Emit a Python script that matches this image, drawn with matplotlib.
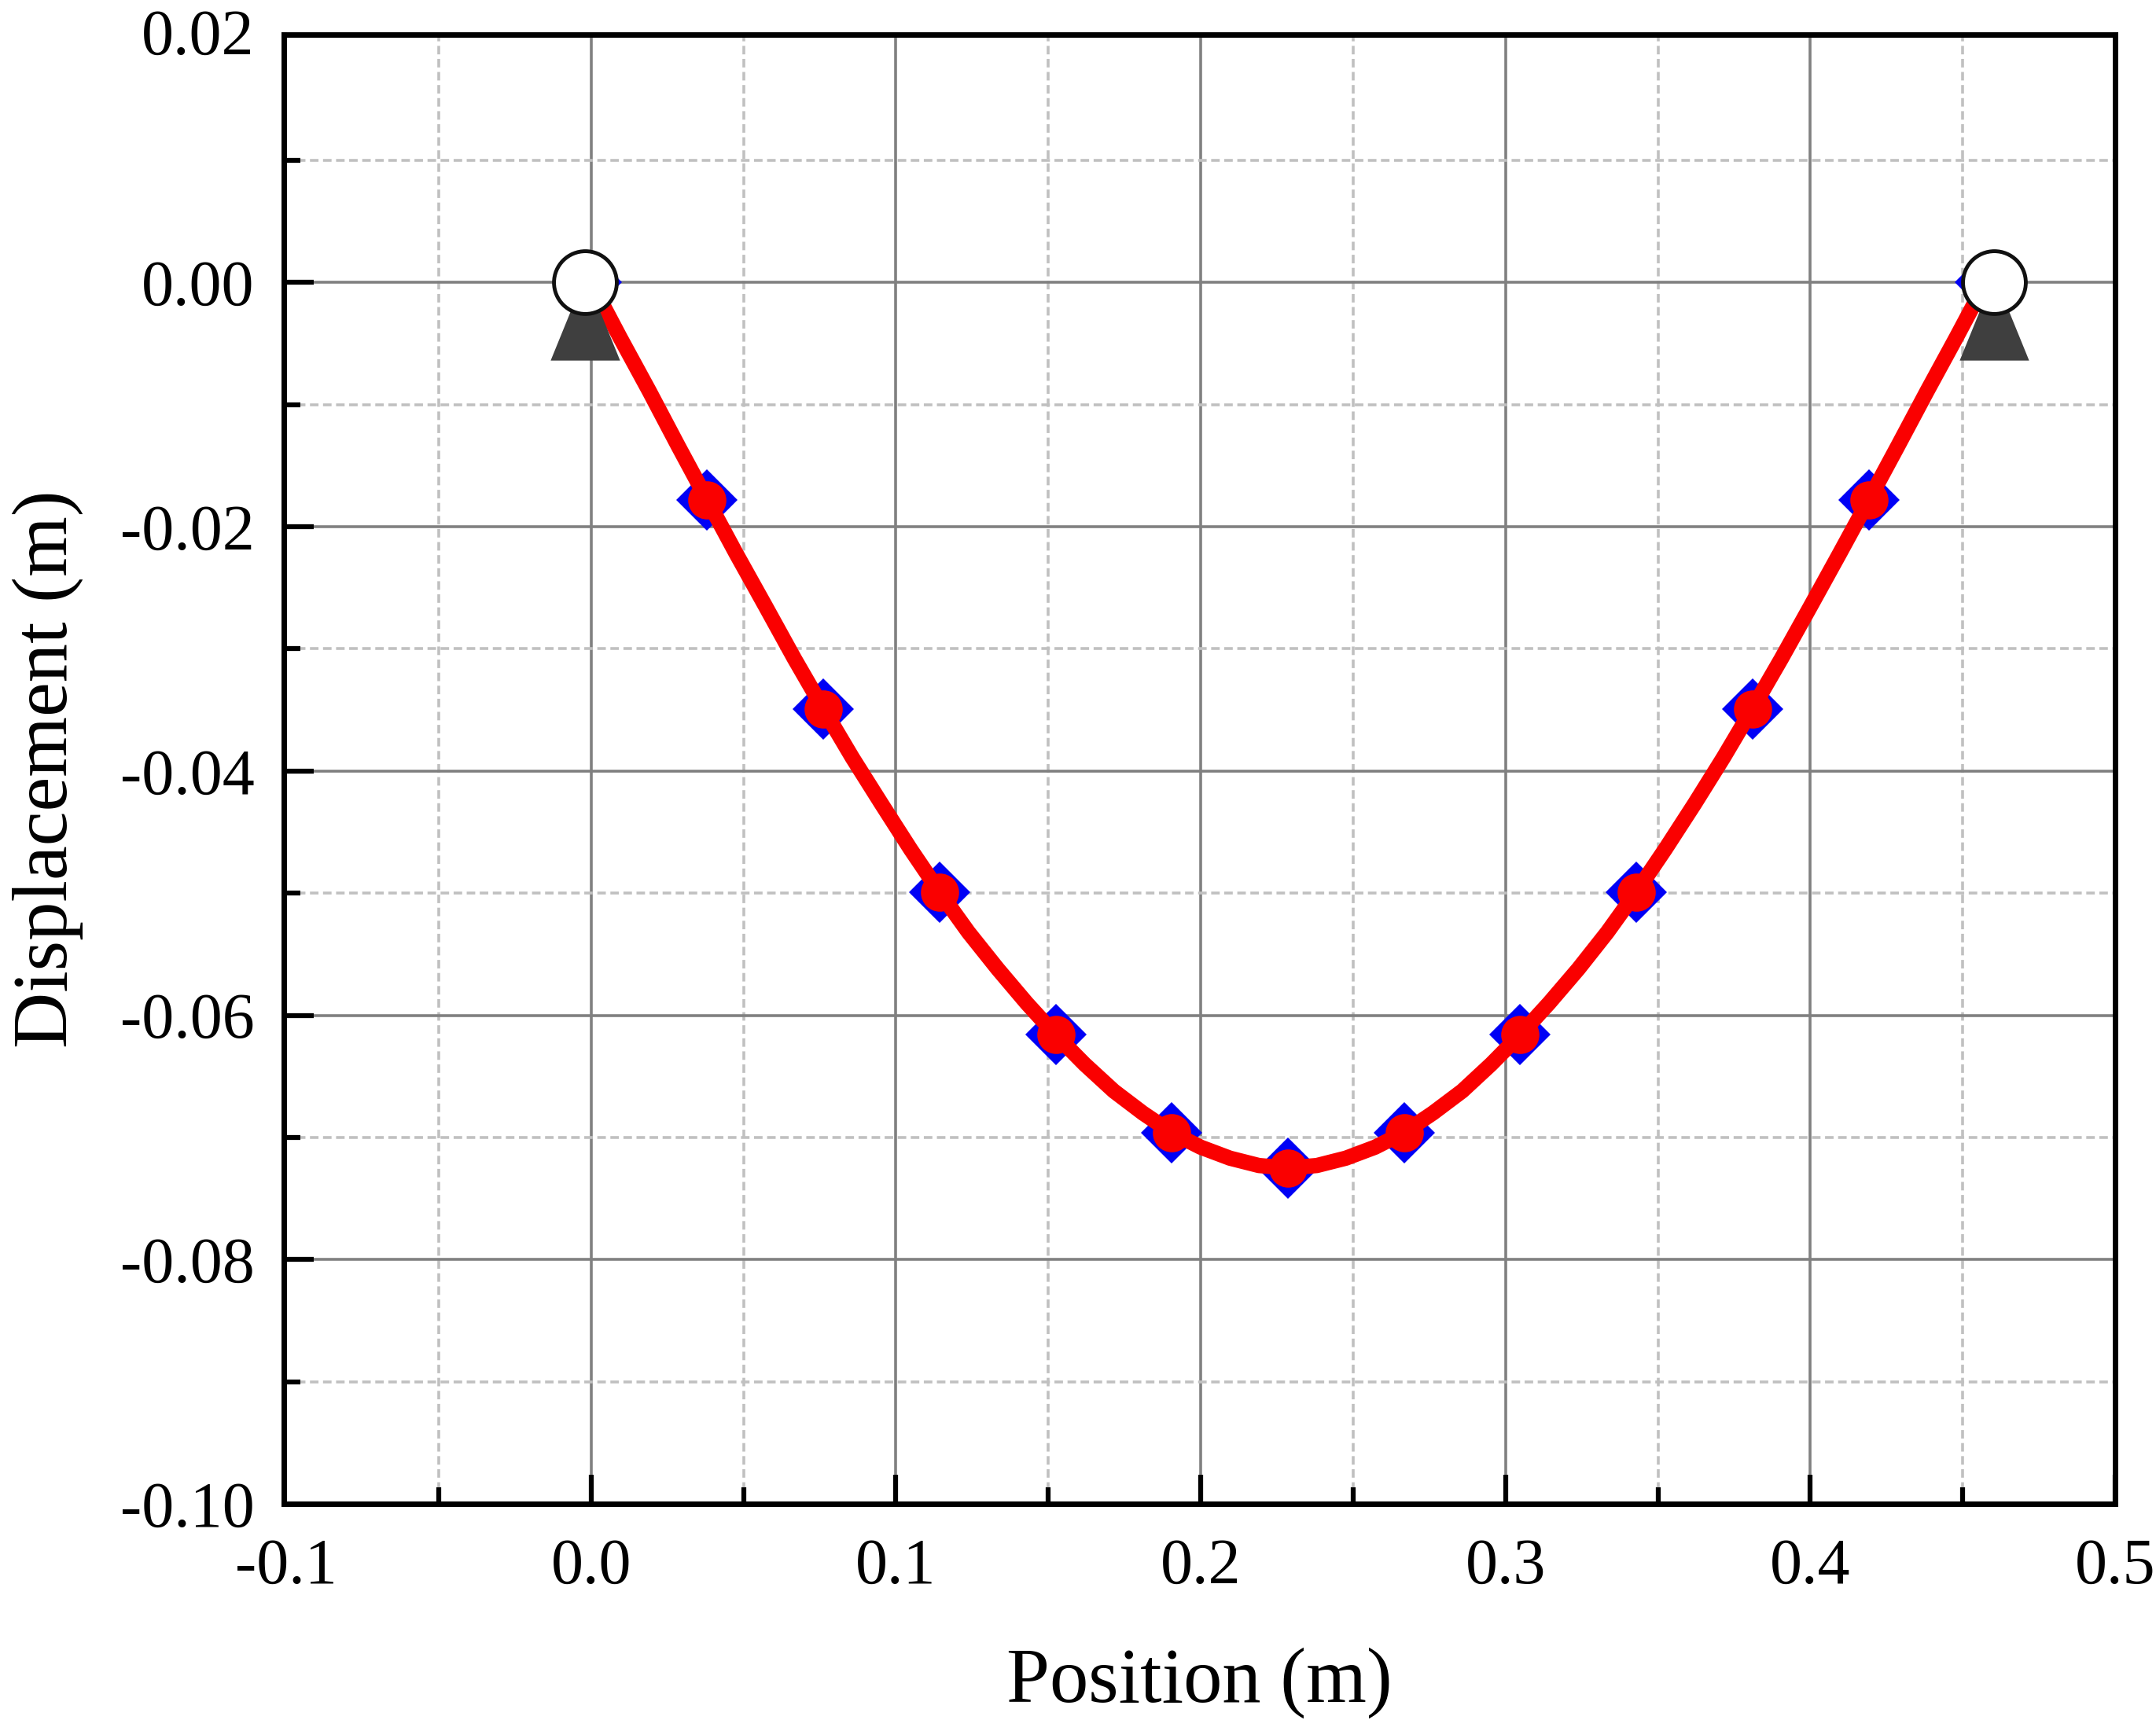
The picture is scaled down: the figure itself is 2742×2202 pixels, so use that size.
import matplotlib
matplotlib.use('Agg')
import matplotlib.pyplot as plt
from matplotlib.ticker import MultipleLocator
from matplotlib.transforms import ScaledTranslation

plt.rcParams['font.family'] = ['Liberation Serif', 'DejaVu Serif']

# nodes
position = [0.0, 0.0381, 0.0762, 0.1143, 0.1524, 0.1905, 0.2285, 0.2667, 0.3048, 0.3429, 0.381, 0.4192, 0.4575]
displacement = [0.0, -0.0178, -0.0349, -0.0499, -0.0616, -0.0696, -0.0725, -0.0696, -0.0616, -0.0499, -0.0349, -0.0178, 0.0]

curve_x = [0.0, 0.0095, 0.0191, 0.0286, 0.0381, 0.0476, 0.0572, 0.0667, 0.0762, 0.0857, 0.0953, 0.1048, 0.1143,
           0.1238, 0.1334, 0.1429, 0.1524, 0.1619, 0.1715, 0.181, 0.1905, 0.2, 0.2096, 0.2191, 0.2285,
           0.2381, 0.2476, 0.2572, 0.2667, 0.2762, 0.2858, 0.2953, 0.3048, 0.3143, 0.3239, 0.3334, 0.3429,
           0.3524, 0.362, 0.3715, 0.381, 0.3905, 0.4001, 0.4096, 0.4192, 0.4287, 0.4383, 0.4479, 0.4575]
curve_y = [0.0, -0.0045, -0.0089, -0.0134, -0.0178, -0.0222, -0.0265, -0.0308, -0.0349, -0.0389, -0.0427, -0.0464, -0.0499,
           -0.0532, -0.0562, -0.059, -0.0616, -0.064, -0.0662, -0.068, -0.0696, -0.0708, -0.0717, -0.0723, -0.0725,
           -0.0723, -0.0717, -0.0708, -0.0696, -0.068, -0.0662, -0.064, -0.0616, -0.059, -0.0562, -0.0532, -0.0499,
           -0.0464, -0.0427, -0.0389, -0.0349, -0.0308, -0.0265, -0.0222, -0.0178, -0.0134, -0.0089, -0.0045, 0.0]

support_x = [-0.0021, 0.4603]
support_y = [-0.0029, -0.0029]
pin_x = [-0.0021, 0.4603]
pin_y = [0.0, 0.0]

x_ticks = [-0.1, 0.0, 0.1, 0.2, 0.3, 0.4, 0.5]
x_labels = ['-0.1', '0.0', '0.1', '0.2', '0.3', '0.4', '0.5']
y_ticks = [-0.10, -0.08, -0.06, -0.04, -0.02, 0.0, 0.02]
y_labels = ['-0.10', '-0.08', '-0.06', '-0.04', '-0.02', '0.00', '0.02']

fig = plt.figure(figsize=(27.42, 22.02), dpi=100)
ax = fig.add_axes([361 / 2742, 1 - 1913 / 2202, (2690 - 361) / 2742, (1913 - 44) / 2202])

ax.set_xlim(-0.1008, 0.5)
ax.set_ylim(-0.10, 0.0203)
ax.xaxis.set_minor_locator(MultipleLocator(0.05))
ax.yaxis.set_minor_locator(MultipleLocator(0.01))
ax.set_axisbelow(True)
ax.grid(which='major', color='#808080', lw=2.6)
ax.grid(which='minor', color='#c0c0c0', lw=2.6, ls=(0, (3, 1.6)))

# support triangle is taller than the stock ^ marker
support_marker = [(-44, -54), (44, -54), (0, 54)]

ax.plot(position, displacement, ls='none', marker='D', ms=40, color='#0000f5', mew=0, zorder=3)
ax.plot(curve_x, curve_y, color='#fa0000', lw=14, zorder=4, solid_joinstyle='round')
ax.plot(position[1:-1], displacement[1:-1], ls='none', marker='o', ms=35, color='#fa0000', mew=0, zorder=5)
ax.plot(support_x, support_y, ls='none', marker=support_marker, ms=78, color='#3f3f3f', mew=0, zorder=6)
ax.plot(pin_x, pin_y, ls='none', marker='o', ms=57.5, mfc='white', mec='#111111', mew=3.5, zorder=7, clip_on=False)

ax.set_xticks(x_ticks)
ax.set_xticklabels(x_labels)
ax.set_yticks(y_ticks)
ax.set_yticklabels(y_labels)
ax.tick_params(which='major', direction='in', length=27, width=4.5, labelsize=59)
ax.tick_params(which='minor', direction='in', length=15, width=4.5)
ax.tick_params(axis='x', which='major', pad=31)
ax.tick_params(axis='y', which='major', pad=27)
for s in ax.spines.values():
    s.set_linewidth(5)

# no tick marks at the corners, and the top label sits a little higher
ax.xaxis.get_major_ticks()[0].tick1line.set_visible(False)
ax.xaxis.get_major_ticks()[0].gridline.set_visible(False)
ax.yaxis.get_major_ticks()[0].tick1line.set_visible(False)
ax.yaxis.get_major_ticks()[-1].tick1line.set_visible(False)
ax.yaxis.get_major_ticks()[-1].gridline.set_visible(False)
top_label = ax.yaxis.get_major_ticks()[-1].label1
top_label.set_transform(top_label.get_transform() + ScaledTranslation(0, 6 / 72, fig.dpi_scale_trans))

ax.set_xlabel('Position (m)', fontsize=71, labelpad=46)
ax.set_ylabel('Displacement (m)', fontsize=71, labelpad=34)

fig.savefig('out.png', dpi=100)
